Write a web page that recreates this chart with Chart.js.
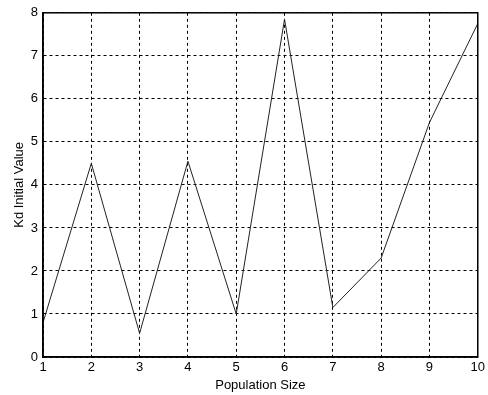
<!DOCTYPE html>
<html>
<head>
<meta charset="utf-8">
<script src="https://cdn.jsdelivr.net/npm/chart.js@4/dist/chart.umd.min.js"></script>
<style>
  html, body { margin: 0; padding: 0; background: #fff; }
  #wrap { width: 488px; height: 395px; }
</style>
</head>
<body>
<div id="wrap"><canvas id="kd-chart"></canvas></div>
<script>
// datos
const popSizes = [1, 2, 3, 4, 5, 6, 7, 8, 9, 10];
const kdValues = [0.8, 4.5, 0.55, 4.55, 1.0, 7.85, 1.15, 2.3, 5.45, 7.75];
const yTicks = [0, 1, 2, 3, 4, 5, 6, 7, 8];

// marco completo alrededor del area de dibujo
const boxPlugin = {
  id: "box",
  afterDraw(chart) {
    const a = chart.chartArea;
    const ctx = chart.ctx;
    ctx.save();
    ctx.strokeStyle = "#000";
    ctx.lineWidth = 1.5;
    ctx.strokeRect(a.left, a.top, a.right - a.left, a.bottom - a.top);
    ctx.restore();
  }
};

const tickFont = { family: "Liberation Sans, Arial, sans-serif", size: 13 };

new Chart(document.getElementById("kd-chart"), {
  type: "line",
  data: {
    datasets: [{
      data: popSizes.map((p, i) => ({ x: p, y: kdValues[i] })),
      borderColor: "#222",
      borderWidth: 1,
      pointRadius: 0,
      tension: 0,
      fill: false
    }]
  },
  options: {
    responsive: true,
    maintainAspectRatio: false,
    animation: false,
    layout: { padding: { top: 12, right: 9, left: 0, bottom: 0 } },
    plugins: { legend: { display: false }, tooltip: { enabled: false } },
    scales: {
      x: {
        type: "linear",
        min: 1,
        max: 10,
        afterFit: s => { s.height = 38; },
        afterBuildTicks: s => { s.ticks = popSizes.map(v => ({ value: v })); },
        grid: { color: "#000", lineWidth: 1, drawTicks: false },
        border: { display: true, color: "#000", width: 1.5, dash: [3, 3] },
        ticks: { color: "#000", font: tickFont, padding: 3, maxRotation: 0 },
        title: { display: true, text: "Population Size", color: "#000", font: tickFont, padding: { top: 0, bottom: 2 } }
      },
      y: {
        min: 0,
        max: 8,
        afterFit: s => { s.width = 43; },
        afterBuildTicks: s => { s.ticks = yTicks.map(v => ({ value: v })); },
        grid: { color: "#000", lineWidth: 1, drawTicks: false },
        border: { display: true, color: "#000", width: 1.5, dash: [3, 3] },
        ticks: { color: "#000", font: tickFont, padding: 5 },
        title: { display: true, text: "Kd Initial Value", color: "#000", font: tickFont, padding: { top: 12, bottom: 0 } }
      }
    }
  },
  plugins: [boxPlugin]
});
</script>
</body>
</html>
